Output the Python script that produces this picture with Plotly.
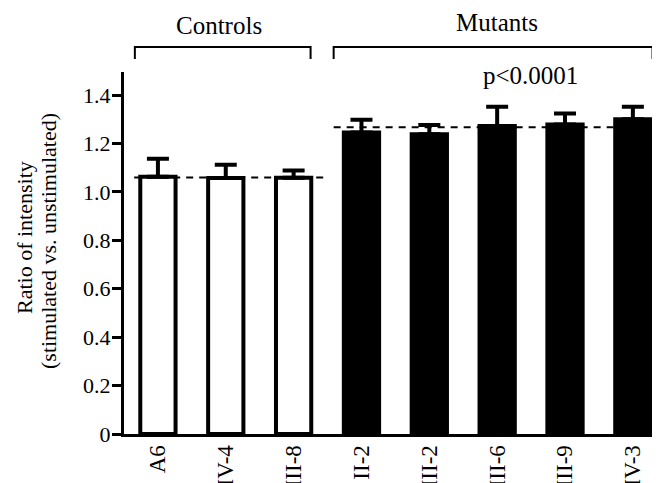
import plotly.graph_objects as go

# ---- data ----
control_labels = ["A6", "IV-4", "III-8"]
control_values = [1.062, 1.057, 1.058]
control_err = [0.075, 0.055, 0.030]

mutant_labels = ["II-2", "III-2", "III-6", "III-9", "IV-3"]
mutant_values = [1.245, 1.238, 1.272, 1.278, 1.300]
mutant_err = [0.053, 0.038, 0.080, 0.046, 0.052]

y_tickvals = [0, 0.2, 0.4, 0.6, 0.8, 1.0, 1.2, 1.4]
y_ticktext = ["0", "0.2", "0.4", "0.6", "0.8", "1.0", "1.2", "1.4"]

FONT = "Liberation Serif, Times New Roman, serif"
OFF = 8                      # page body margin of the html file
W, H = 660 - OFF, 483 - OFF  # figure fits exactly inside the window
ML, MR, MT, MB = 124 - OFF, 0, 72 - OFF, H - (434 - OFF)

categories = control_labels + mutant_labels
ctrl_mean = sum(control_values) / len(control_values)
mut_mean = sum(mutant_values) / len(mutant_values)


def py(pix):
    """window pixel row -> paper y"""
    return (H - MB - (pix - OFF)) / (H - MT - MB)


def px(pix):
    """window pixel column -> paper x"""
    return ((pix - OFF) - ML) / (W - ML - MR)


fig = go.Figure()
fig.add_trace(go.Bar(
    x=control_labels, y=control_values, width=0.52,
    marker=dict(color="white", line=dict(color="black", width=4)),
    error_y=dict(type="data", symmetric=False, array=control_err,
                 arrayminus=[0] * len(control_err), color="black",
                 thickness=4, width=11),
    showlegend=False,
))
fig.add_trace(go.Bar(
    x=mutant_labels, y=mutant_values, width=0.52,
    marker=dict(color="black", line=dict(color="black", width=4)),
    error_y=dict(type="data", symmetric=False, array=mutant_err,
                 arrayminus=[0] * len(mutant_err), color="black",
                 thickness=4, width=11),
    showlegend=False,
))

# mean dashed lines
fig.add_shape(type="line", xref="x", yref="y", x0=-0.35, x1=2.44,
              y0=ctrl_mean, y1=ctrl_mean,
              line=dict(color="black", width=2, dash="7px,6px"))
fig.add_shape(type="line", xref="x", yref="y", x0=2.59, x1=7.5,
              y0=mut_mean, y1=mut_mean,
              line=dict(color="black", width=2, dash="7px,6px"))

# group brackets
for x0, x1 in [(-0.34, 2.25), (2.59, 7.29)]:
    fig.add_shape(type="path", xref="x", yref="paper",
                  path=f"M {x0},{py(59)} L {x0},{py(47)} L {x1},{py(47)} L {x1},{py(59)}",
                  line=dict(color="black", width=2))

ann_font = dict(family=FONT, size=25, color="black")
fig.add_annotation(text="Controls", xref="x", yref="paper", x=0.904, y=py(25),
                   xanchor="center", yanchor="middle", showarrow=False, font=ann_font)
fig.add_annotation(text="Mutants", xref="x", yref="paper", x=5.0, y=py(23),
                   xanchor="center", yanchor="middle", showarrow=False, font=ann_font)
fig.add_annotation(text="p<0.0001", xref="x", yref="paper", x=5.485, y=py(75),
                   xanchor="center", yanchor="middle", showarrow=False, font=ann_font)

# y axis title, two lines
fig.add_annotation(text="Ratio of intensity", xref="paper", yref="paper",
                   x=px(24), y=py(238), textangle=-90, showarrow=False,
                   xanchor="center", yanchor="middle",
                   font=dict(family=FONT, size=22, color="black"))
fig.add_annotation(text="(stimulated vs. unstimulated)", xref="paper", yref="paper",
                   x=px(48), y=py(241), textangle=-90, showarrow=False,
                   xanchor="center", yanchor="middle",
                   font=dict(family=FONT, size=22, color="black"))

fig.update_layout(
    width=W, height=H,
    margin=dict(l=ML, r=MR, t=MT, b=MB, autoexpand=False),
    paper_bgcolor="white", plot_bgcolor="white",
    barmode="overlay",
    font=dict(family=FONT, color="black"),
    xaxis=dict(categoryorder="array", categoryarray=categories,
               range=[-0.5, 7.4], showline=True, linecolor="black", linewidth=3,
               ticks="", tickangle=-90, ticklabelstandoff=-1, automargin=False,
               tickfont=dict(family=FONT, size=23, color="black"),
               showgrid=False, zeroline=False, fixedrange=True),
    yaxis=dict(range=[0, 1.495], showline=True, linecolor="black", linewidth=3,
               ticks="outside", ticklen=9, tickwidth=3, tickcolor="black",
               tickvals=y_tickvals, ticktext=y_ticktext, automargin=False,
               ticklabelstandoff=-3,
               tickfont=dict(family=FONT, size=22, color="black"),
               showgrid=False, zeroline=False),
)

fig.write_html("out.html")
